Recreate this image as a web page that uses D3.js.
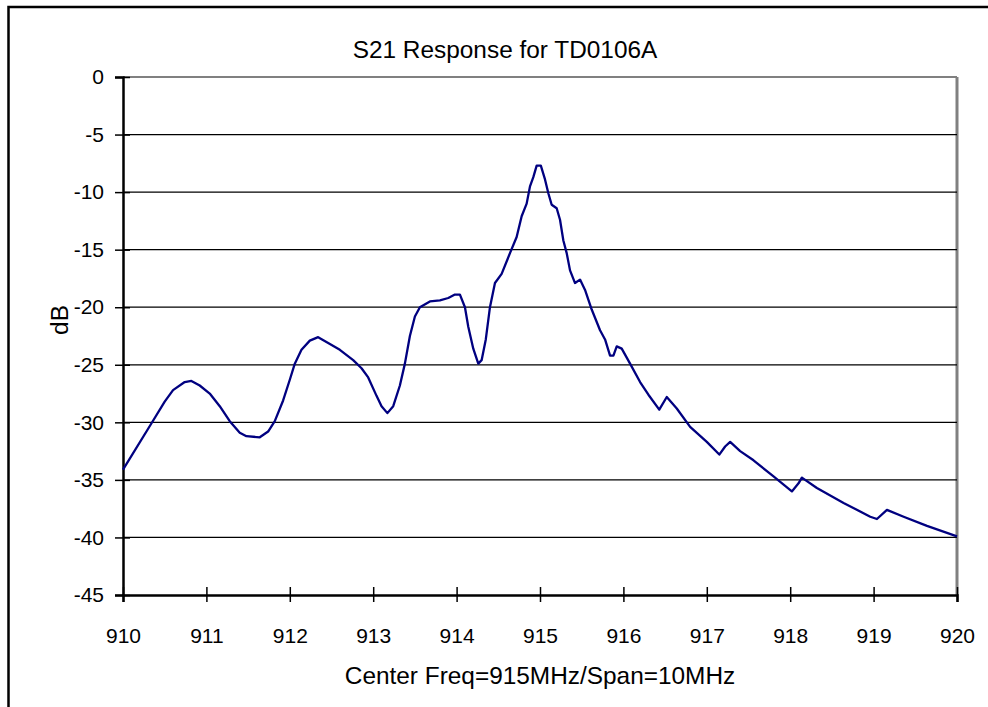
<!DOCTYPE html>
<html>
<head>
<meta charset="utf-8">
<script src="https://cdn.jsdelivr.net/npm/d3@7"></script>
<style>
  html, body { margin: 0; padding: 0; background: #fff; }
  svg { display: block; }
  text { font-family: "Liberation Sans", Arial, sans-serif; fill: #000; }
</style>
</head>
<body>
<svg id="chart" width="988" height="707"></svg>
<script>
// ---- data ----
const title = "S21 Response for TD0106A";
const xTitle = "Center Freq=915MHz/Span=10MHz";
const yTitle = "dB";
const xTicks = [910, 911, 912, 913, 914, 915, 916, 917, 918, 919, 920];
const yTicks = [0, -5, -10, -15, -20, -25, -30, -35, -40, -45];
const freq = [
  910.00, 910.34, 910.50, 910.60, 910.74, 910.82, 910.92, 911.04, 911.16, 911.28,
  911.40, 911.48, 911.64, 911.74, 911.82, 911.92, 912.00, 912.06, 912.14, 912.24,
  912.34, 912.46, 912.60, 912.76, 912.86, 912.94, 913.04, 913.10, 913.17, 913.24,
  913.32, 913.38, 913.44, 913.50, 913.56, 913.68, 913.80, 913.90, 913.98, 914.04,
  914.10, 914.14, 914.20, 914.26, 914.30, 914.35, 914.40, 914.46, 914.54, 914.64,
  914.72, 914.78, 914.84, 914.88, 914.92, 914.96, 915.01, 915.06, 915.10, 915.14,
  915.20, 915.24, 915.28, 915.32, 915.36, 915.42, 915.48, 915.54, 915.62, 915.72,
  915.78, 915.84, 915.88, 915.92, 915.98, 916.08, 916.20, 916.30, 916.43, 916.52,
  916.64, 916.80, 917.00, 917.15, 917.22, 917.28, 917.40, 917.56, 917.80, 918.02,
  918.10, 918.14, 918.32, 918.64, 918.96, 919.04, 919.16, 919.36, 919.64, 920.00
];
const s21 = [
  -34.1, -30.1, -28.2, -27.2, -26.5, -26.4, -26.8, -27.5, -28.6, -29.9,
  -30.9, -31.2, -31.3, -30.8, -29.9, -28.1, -26.3, -24.9, -23.7, -22.9,
  -22.6, -23.1, -23.7, -24.6, -25.3, -26.1, -27.7, -28.6, -29.2, -28.6,
  -26.8, -24.9, -22.5, -20.8, -20.0, -19.5, -19.4, -19.2, -18.9, -18.9,
  -20.0, -21.7, -23.6, -24.9, -24.6, -22.8, -20.0, -17.9, -17.1, -15.3,
  -13.9, -12.1, -11.0, -9.5, -8.7, -7.7, -7.7, -8.9, -10.1, -11.1,
  -11.4, -12.4, -14.2, -15.3, -16.8, -17.9, -17.6, -18.5, -20.2, -22.0,
  -22.8, -24.2, -24.2, -23.4, -23.6, -24.9, -26.5, -27.6, -28.9, -27.8,
  -28.8, -30.4, -31.7, -32.8, -32.1, -31.7, -32.5, -33.3, -34.7, -36.0,
  -35.3, -34.8, -35.7, -37.0, -38.2, -38.4, -37.6, -38.2, -39.0, -39.9
];

// ---- layout ----
const svg = d3.select("#chart");
const L = 123, R = 957, T = 77, B = 595;
const x = d3.scaleLinear().domain([910, 920]).range([L, R]);
const y = d3.scaleLinear().domain([-45, 0]).range([B, T]);
const fmt = d => String(d); // plain hyphen-minus, like the original

svg.append("rect").attr("width", 988).attr("height", 707).attr("fill", "#fff");
// outer chart-area border (extends beyond the cropped picture)
svg.append("rect").attr("x", 8.5).attr("y", 7).attr("width", 1200).attr("height", 1000)
  .attr("fill", "none").attr("stroke", "#000").attr("stroke-width", 2.5);

// plot frame (gray top & right)
svg.append("line").attr("x1", L).attr("x2", R).attr("y1", y(0)).attr("y2", y(0))
  .attr("stroke", "#808080").attr("stroke-width", 2);
svg.append("line").attr("x1", R).attr("x2", R).attr("y1", T).attr("y2", B)
  .attr("stroke", "#808080").attr("stroke-width", 3);

// gridlines
svg.append("g").selectAll("line")
  .data(yTicks.filter(v => v !== 0 && v !== -45))
  .join("line")
  .attr("x1", L).attr("x2", R)
  .attr("y1", d => y(d)).attr("y2", d => y(d))
  .attr("stroke", "#000").attr("stroke-width", 1.3);

// y axis
const yAxis = svg.append("g").attr("transform", `translate(${L},0)`)
  .call(d3.axisLeft(y).tickValues(yTicks).tickSize(8).tickFormat(fmt));
yAxis.select(".domain").attr("stroke", "#000").attr("stroke-width", 2.5);
yAxis.selectAll(".tick line").attr("x1", 7).attr("x2", -8).attr("stroke", "#000").attr("stroke-width", 1.5);
yAxis.selectAll(".tick text").attr("font-size", 21).attr("x", -19)
  .style("font-family", '"Liberation Sans", Arial, sans-serif').attr("fill", "#000");

// x axis
const xAxis = svg.append("g").attr("transform", `translate(0,${B})`)
  .call(d3.axisBottom(x).tickValues(xTicks).tickSize(7).tickFormat(fmt));
xAxis.select(".domain").attr("stroke", "#000").attr("stroke-width", 2.5);
xAxis.selectAll(".tick line").attr("y1", -8).attr("y2", 7).attr("stroke", "#000").attr("stroke-width", 1.5);
xAxis.selectAll(".tick text").attr("font-size", 21).attr("y", 48).attr("dy", null)
  .style("font-family", '"Liberation Sans", Arial, sans-serif').attr("fill", "#000");

// curve
const pts = freq.map((f, i) => [f, s21[i]]);
svg.append("path").datum(pts)
  .attr("fill", "none").attr("stroke", "#000080").attr("stroke-width", 2.3)
  .attr("stroke-linejoin", "round")
  .attr("d", d3.line().x(d => x(d[0])).y(d => y(d[1])));

// titles
svg.append("text").attr("x", 505).attr("y", 58).attr("text-anchor", "middle")
  .attr("font-size", 24.4).text(title);
svg.append("text").attr("x", (L + R) / 2).attr("y", 684).attr("text-anchor", "middle")
  .attr("font-size", 24.4).text(xTitle);
svg.append("text").attr("transform", "translate(68,320) rotate(-90)").attr("text-anchor", "middle")
  .attr("font-size", 24.4).text(yTitle);
</script>
</body>
</html>
